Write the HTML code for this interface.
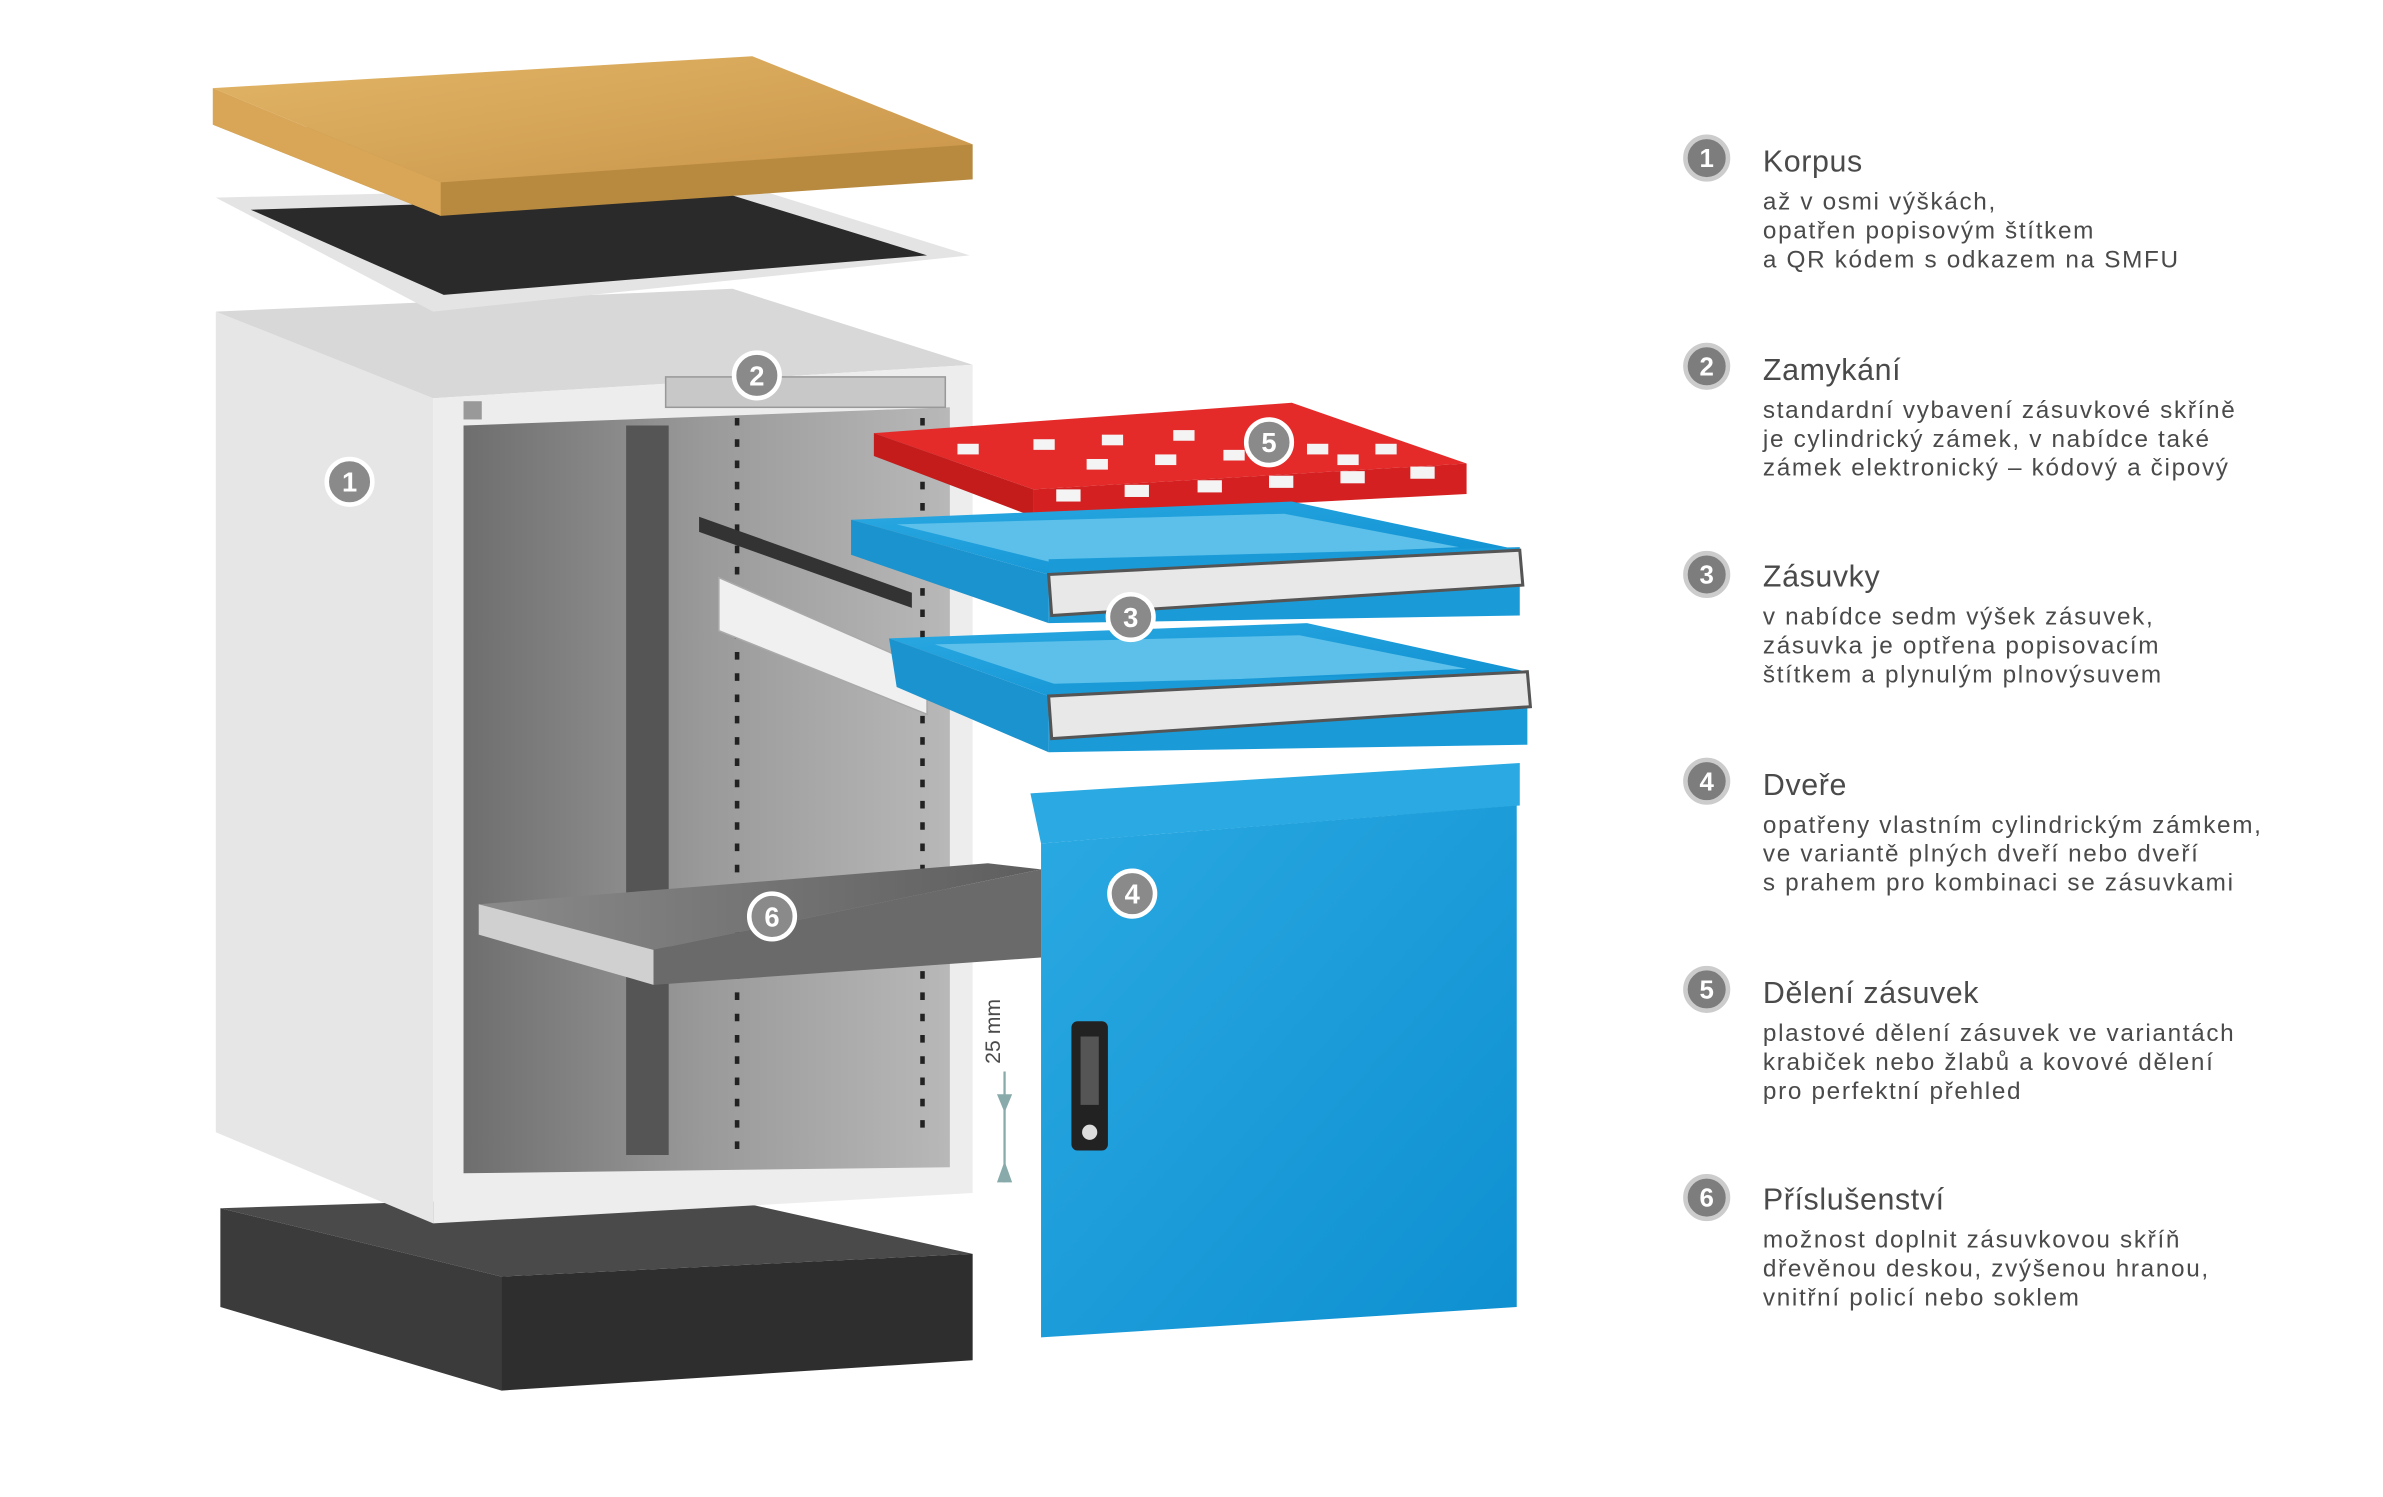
<!DOCTYPE html>
<html><head><meta charset="utf-8"><style>
html,body{margin:0;padding:0;background:#fff;}
svg{display:block;}
.t{font-family:"Liberation Sans",sans-serif;fill:#4a4a4a;}
.b{font-size:16px;letter-spacing:1.1px;}
.h{font-size:20px;letter-spacing:0.4px;}
</style></head><body>
<svg width="2383" height="1497" viewBox="0 0 1568 985" xmlns="http://www.w3.org/2000/svg">
<defs>
<linearGradient id="wood" x1="0" y1="0" x2="1" y2="1"><stop offset="0" stop-color="#e2b566"/><stop offset="1" stop-color="#c9954a"/></linearGradient>
<linearGradient id="inner" x1="0" y1="0" x2="1" y2="0"><stop offset="0" stop-color="#6e6e6e"/><stop offset="0.5" stop-color="#9a9a9a"/><stop offset="1" stop-color="#b8b8b8"/></linearGradient>
<linearGradient id="blue" x1="0" y1="0" x2="1" y2="1"><stop offset="0" stop-color="#2aa9e2"/><stop offset="1" stop-color="#0e8fd0"/></linearGradient>
<linearGradient id="shelf" x1="0" y1="0" x2="1" y2="0"><stop offset="0" stop-color="#8a8a8a"/><stop offset="1" stop-color="#5e5e5e"/></linearGradient>
</defs>
<!-- base plinth -->
<polygon points="145,795 330,840 330,915 145,860" fill="#3b3b3b"/>
<polygon points="330,840 640,825 640,895 330,915" fill="#2e2e2e"/>
<polygon points="145,795 460,785 640,825 330,840" fill="#4a4a4a"/>
<!-- cabinet body -->
<polygon points="142,205 285,262 285,805 142,745" fill="#e6e6e6"/>
<polygon points="142,205 482,190 640,240 285,262" fill="#d8d8d8"/>
<polygon points="285,262 640,240 640,785 285,805" fill="#ededed"/>
<polygon points="305,280 625,268 625,768 305,772" fill="url(#inner)"/>
<polygon points="412,280 440,280 440,760 412,760" fill="#555"/>
<line x1="485" y1="275" x2="485" y2="760" stroke="#222" stroke-width="3" stroke-dasharray="5,9"/>
<line x1="607" y1="275" x2="607" y2="750" stroke="#222" stroke-width="3" stroke-dasharray="5,9"/>
<rect x="438" y="248" width="184" height="20" fill="#c8c8c8" stroke="#999"/>
<rect x="305" y="264" width="12" height="12" fill="#999"/>
<!-- tray -->
<polygon points="142,130 490,122 638,168 285,205" fill="#e4e4e4"/>
<polygon points="165,138 480,128 610,168 292,194" fill="#2a2a2a"/>
<!-- wood top -->
<polygon points="140,82 290,142 640,118 640,95" fill="#b88a40"/>
<polygon points="140,58 495,37 640,95 290,120" fill="url(#wood)"/>
<polygon points="140,58 290,120 290,142 140,82" fill="#d8a656"/>
<!-- rails -->
<polygon points="473,380 610,440 610,470 473,415" fill="#f0f0f0" stroke="#aaa"/>
<polygon points="460,340 600,390 600,400 460,350" fill="#333"/>
<!-- shelf -->
<polygon points="315,595 650,568 685,572 430,625" fill="url(#shelf)"/>
<polygon points="315,595 430,625 430,648 315,615" fill="#d0d0d0"/>
<polygon points="430,625 685,572 685,630 430,648" fill="#6a6a6a"/>
<!-- red divider -->
<polygon points="575,285 850,265 965,305 680,322" fill="#e52a2a"/>
<polygon points="575,285 680,322 680,340 575,300" fill="#c41b1b"/>
<polygon points="680,322 965,305 965,325 680,340" fill="#d42020"/>
<g fill="#f4f4f4">
<rect x="695" y="322" width="16" height="8"/><rect x="740" y="319" width="16" height="8"/><rect x="788" y="316" width="16" height="8"/><rect x="835" y="313" width="16" height="8"/><rect x="882" y="310" width="16" height="8"/><rect x="928" y="307" width="16" height="8"/>
<rect x="630" y="292" width="14" height="7"/><rect x="680" y="289" width="14" height="7"/><rect x="725" y="286" width="14" height="7"/><rect x="772" y="283" width="14" height="7"/><rect x="860" y="292" width="14" height="7"/><rect x="905" y="292" width="14" height="7"/>
<rect x="715" y="302" width="14" height="7"/><rect x="760" y="299" width="14" height="7"/><rect x="805" y="296" width="14" height="7"/><rect x="880" y="299" width="14" height="7"/>
</g>
<!-- drawer 1 -->
<polygon points="560,342 850,330 1000,362 690,378" fill="url(#blue)"/>
<polygon points="590,345 845,338 960,360 700,372" fill="#5cc0ea"/>
<polygon points="560,342 690,378 690,410 560,365" fill="#1a93cf"/>
<polygon points="690,368 1000,360 1000,405 690,410" fill="#1a9bd8"/>
<polygon points="690,378 1000,362 1002,385 692,405" fill="#e8e8e8" stroke="#555" stroke-width="2"/>
<!-- drawer 2 -->
<polygon points="585,420 860,410 1005,442 690,458" fill="url(#blue)"/>
<polygon points="615,424 855,418 965,440 700,452" fill="#5cc0ea"/>
<polygon points="585,420 690,458 690,495 590,452" fill="#1a93cf"/>
<polygon points="690,450 1005,442 1005,490 690,495" fill="#1a9bd8"/>
<polygon points="690,458 1005,442 1007,465 692,486" fill="#e8e8e8" stroke="#555" stroke-width="2"/>
<!-- door -->
<polygon points="678,522 1000,502 1000,530 685,555" fill="#2aa9e2"/>
<polygon points="685,555 998,530 998,860 685,880" fill="url(#blue)"/>
<rect x="705" y="672" width="24" height="85" rx="4" fill="#222"/>
<rect x="711" y="682" width="12" height="45" fill="#555"/>
<circle cx="717" cy="745" r="5" fill="#ddd"/>
<!-- 25 mm -->
<text x="0" y="0" class="t" font-size="14" transform="translate(658,700) rotate(-90)">25 mm</text>
<line x1="661" y1="705" x2="661" y2="778" stroke="#8aa" stroke-width="1.5"/>
<polygon points="656,720 666,720 661,732" fill="#8aa"/>
<polygon points="656,778 666,778 661,764" fill="#8aa"/>
<!-- picture badges -->
<g font-family="Liberation Sans,sans-serif" font-weight="bold" font-size="18" fill="#fff" text-anchor="middle">
<g><circle cx="230" cy="317" r="15" fill="#8a8a8a" stroke="#fff" stroke-width="3"/><text x="230" y="323.5">1</text></g>
<g><circle cx="498" cy="247" r="15" fill="#8a8a8a" stroke="#fff" stroke-width="3"/><text x="498" y="253.5">2</text></g>
<g><circle cx="744" cy="406" r="15" fill="#8a8a8a" stroke="#fff" stroke-width="3"/><text x="744" y="412.5">3</text></g>
<g><circle cx="745" cy="588" r="15" fill="#8a8a8a" stroke="#fff" stroke-width="3"/><text x="745" y="594.5">4</text></g>
<g><circle cx="835" cy="291" r="15" fill="#8a8a8a" stroke="#fff" stroke-width="3"/><text x="835" y="297.5">5</text></g>
<g><circle cx="508" cy="603" r="15" fill="#8a8a8a" stroke="#fff" stroke-width="3"/><text x="508" y="609.5">6</text></g>
</g>
<!-- legend -->
<g font-family="Liberation Sans,sans-serif" font-weight="bold" font-size="17" fill="#fff" text-anchor="middle">
<circle cx="1123" cy="104" r="14" fill="#7d7d7d" stroke="#ccc" stroke-width="3"/><text x="1123" y="110">1</text>
<circle cx="1123" cy="241" r="14" fill="#7d7d7d" stroke="#ccc" stroke-width="3"/><text x="1123" y="247">2</text>
<circle cx="1123" cy="378" r="14" fill="#7d7d7d" stroke="#ccc" stroke-width="3"/><text x="1123" y="384">3</text>
<circle cx="1123" cy="514" r="14" fill="#7d7d7d" stroke="#ccc" stroke-width="3"/><text x="1123" y="520">4</text>
<circle cx="1123" cy="651" r="14" fill="#7d7d7d" stroke="#ccc" stroke-width="3"/><text x="1123" y="657">5</text>
<circle cx="1123" cy="788" r="14" fill="#7d7d7d" stroke="#ccc" stroke-width="3"/><text x="1123" y="794">6</text>
</g>
<g class="t">
<text x="1160" y="113" class="h">Korpus</text>
<text x="1160" y="138" class="b">až v osmi výškách,</text>
<text x="1160" y="157" class="b">opatřen popisovým štítkem</text>
<text x="1160" y="176" class="b">a QR kódem s odkazem na SMFU</text>

<text x="1160" y="250" class="h">Zamykání</text>
<text x="1160" y="275" class="b">standardní vybavení zásuvkové skříně</text>
<text x="1160" y="294" class="b">je cylindrický zámek, v nabídce také</text>
<text x="1160" y="313" class="b">zámek elektronický – kódový a čipový</text>

<text x="1160" y="386" class="h">Zásuvky</text>
<text x="1160" y="411" class="b">v nabídce sedm výšek zásuvek,</text>
<text x="1160" y="430" class="b">zásuvka je optřena popisovacím</text>
<text x="1160" y="449" class="b">štítkem a plynulým plnovýsuvem</text>

<text x="1160" y="523" class="h">Dveře</text>
<text x="1160" y="548" class="b">opatřeny vlastním cylindrickým zámkem,</text>
<text x="1160" y="567" class="b">ve variantě plných dveří nebo dveří</text>
<text x="1160" y="586" class="b">s prahem pro kombinaci se zásuvkami</text>

<text x="1160" y="660" class="h">Dělení zásuvek</text>
<text x="1160" y="685" class="b">plastové dělení zásuvek ve variantách</text>
<text x="1160" y="704" class="b">krabiček nebo žlabů a kovové dělení</text>
<text x="1160" y="723" class="b">pro perfektní přehled</text>

<text x="1160" y="796" class="h">Příslušenství</text>
<text x="1160" y="821" class="b">možnost doplnit zásuvkovou skříň</text>
<text x="1160" y="840" class="b">dřevěnou deskou, zvýšenou hranou,</text>
<text x="1160" y="859" class="b">vnitřní policí nebo soklem</text>
</g>
</svg>
</body></html>
